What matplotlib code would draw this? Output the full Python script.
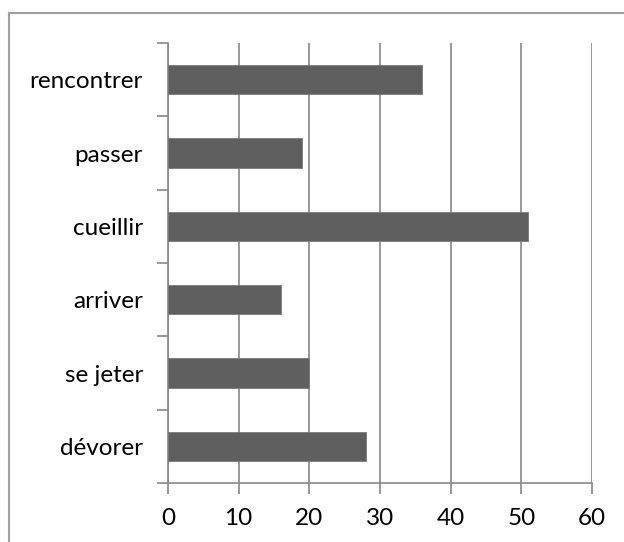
import matplotlib.pyplot as plt
from matplotlib.lines import Line2D
import numpy as np

plt.rcParams["font.family"] = ["Lato", "DejaVu Sans"]

# Values (top to bottom).
categories = ["rencontrer", "passer", "cueillir", "arriver", "se jeter", "dévorer"]
counts = [36, 19, 51, 16, 20, 28]
x_ticks = [0, 10, 20, 30, 40, 50, 60]

GRID = "#888888"
BAR = "#5f5f5f"

fig = plt.figure(figsize=(6.24, 5.42), dpi=100)
ax = fig.add_axes([168 / 624, 59 / 542, 424 / 624, 440 / 542])

y = np.arange(len(categories))[::-1]
ax.barh(y, counts, height=0.4, color=BAR, edgecolor="#7a7a7a", linewidth=0.6, zorder=3)

ax.set_xlim(0, 60)
ax.set_ylim(-0.5, len(categories) - 0.5)
ax.set_xticks(x_ticks)
ax.set_xticklabels([str(t) for t in x_ticks], fontsize=17.5)
ax.xaxis.grid(True, color=GRID, linewidth=1.2, zorder=0)
ax.set_axisbelow(True)

# category labels sit between the boundary ticks
ax.set_yticks(y)
ax.set_yticklabels(categories, fontsize=17.5)
ax.set_yticks(np.arange(-0.5, len(categories), 1.0), minor=True)
ax.tick_params(axis="y", which="major", length=0, pad=18)
ax.tick_params(axis="y", which="minor", length=8, width=1.2, color=GRID, direction="out")
ax.tick_params(axis="x", length=8, width=1.2, color=GRID, direction="out", pad=10)

for side in ["top", "right"]:
    ax.spines[side].set_visible(False)
for side in ["left", "bottom"]:
    ax.spines[side].set_color(GRID)
    ax.spines[side].set_linewidth(1.2)

# outer chart border (only top and left edges fall inside the image)
fig.add_artist(Line2D([9 / 624, 1.0], [1 - 13 / 542, 1 - 13 / 542],
                      transform=fig.transFigure, color="#a0a0a0", linewidth=1.5))
fig.add_artist(Line2D([9 / 624, 9 / 624], [0.0, 1 - 13 / 542],
                      transform=fig.transFigure, color="#a0a0a0", linewidth=1.5))

fig.savefig("out.png", dpi=100)
